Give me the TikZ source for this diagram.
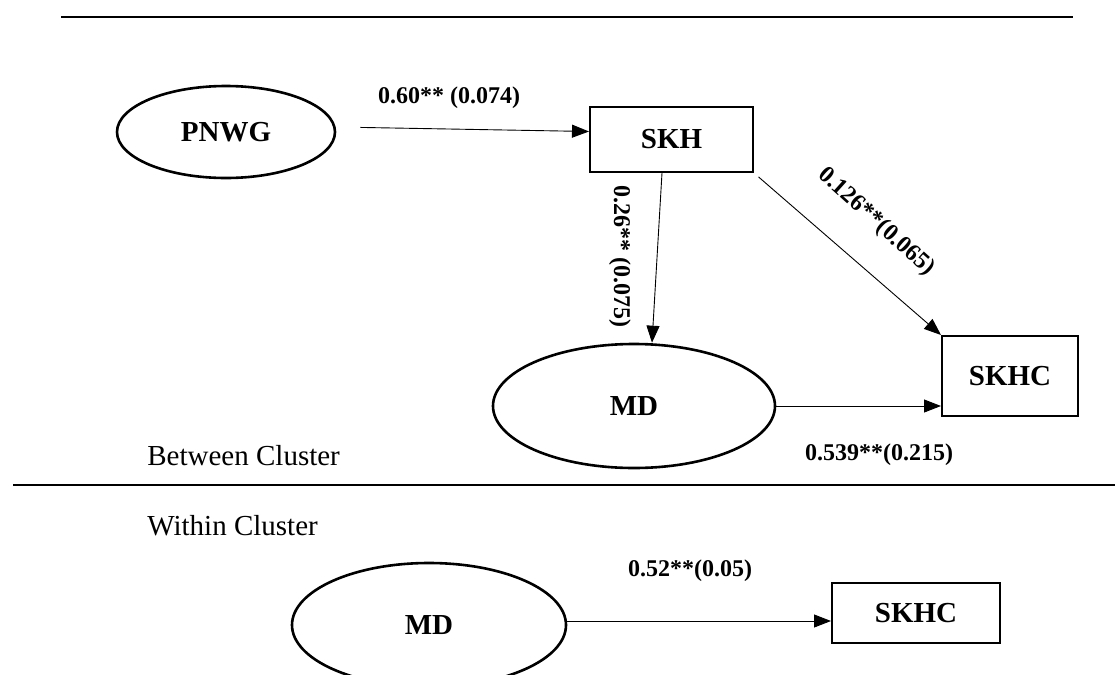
\documentclass[tikz,border=0pt]{standalone}
\usepackage{fontspec}
\setmainfont{Liberation Serif}
\usetikzlibrary{arrows.meta,shapes.geometric}

\begin{document}
\begin{tikzpicture}[x=0.5pt,y=-0.5pt,
    latent/.style={ellipse,draw,line width=1.3pt,inner sep=0pt,
        font=\fontsize{14.5}{17}\selectfont\bfseries},
    observed/.style={rectangle,draw,line width=1pt,inner sep=0pt,
        font=\fontsize{14.5}{17}\selectfont\bfseries},
    regpath/.style={line width=0.45pt,-{Triangle[length=8.5pt,width=6.5pt]}},
    coef/.style={font=\fontsize{12}{14}\selectfont\bfseries,inner sep=0pt},
    clusterlabel/.style={font=\fontsize{14.5}{17}\selectfont,inner sep=0pt},
    divider/.style={line width=1.3pt}]
    \useasboundingbox (0,0) rectangle (1115,675);
    \clip (0,0) rectangle (1115,675);

    % between cluster
    \node[latent,minimum width=109pt,minimum height=46pt] (PNWG) at (226,132) {PNWG};
    \node[observed,minimum width=81.5pt,minimum height=32.5pt] (SKH) at (671.5,139.5) {SKH};
    \node[latent,minimum width=141pt,minimum height=62pt] (MD) at (634,406) {MD};
    \node[observed,minimum width=68pt,minimum height=40pt] (SKHC) at (1010,376) {SKHC};

    \draw[regpath,shorten <=12pt] ([yshift=2.5pt]PNWG.east) -- ([yshift=4pt]SKH.west);
    \draw[regpath] ([xshift=-4.75pt]SKH.south) -- ([xshift=9pt]MD.north);
    \draw[regpath,shorten <=3pt] (SKH.south east) -- (SKHC.north west);
    \draw[regpath] (MD.east) -- (MD.east -| SKHC.west);

    \node[coef] (bPNWG) at (449,98) {0.60** (0.074)};
    \node[coef,rotate=-90] (bSKH) at (620,256) {0.26** (0.075)};
    \node[coef,rotate=-42] (bSKHC) at (876,222) {0.126**(0.065)};
    \node[coef] (bMD) at (879,455) {0.539**(0.215)};

    \node[clusterlabel,anchor=base west] (between) at (147,465) {Between Cluster};
    \draw[divider] (61,17) -- (1073,17);
    \draw[divider] (13,485) -- (1115,485);

    % within cluster
    \node[clusterlabel,anchor=base west] (within) at (147,535) {Within Cluster};
    \node[latent,minimum width=137pt,minimum height=62pt] (MDw) at (429,625) {MD};
    \node[observed,minimum width=84pt,minimum height=30pt] (SKHCw) at (916,613) {SKHC};
    \draw[regpath] ([yshift=2pt]MDw.east) -- ([yshift=2pt]MDw.east -| SKHCw.west);
    \node[coef] (wMD) at (690,571) {0.52**(0.05)};
\end{tikzpicture}
\end{document}
